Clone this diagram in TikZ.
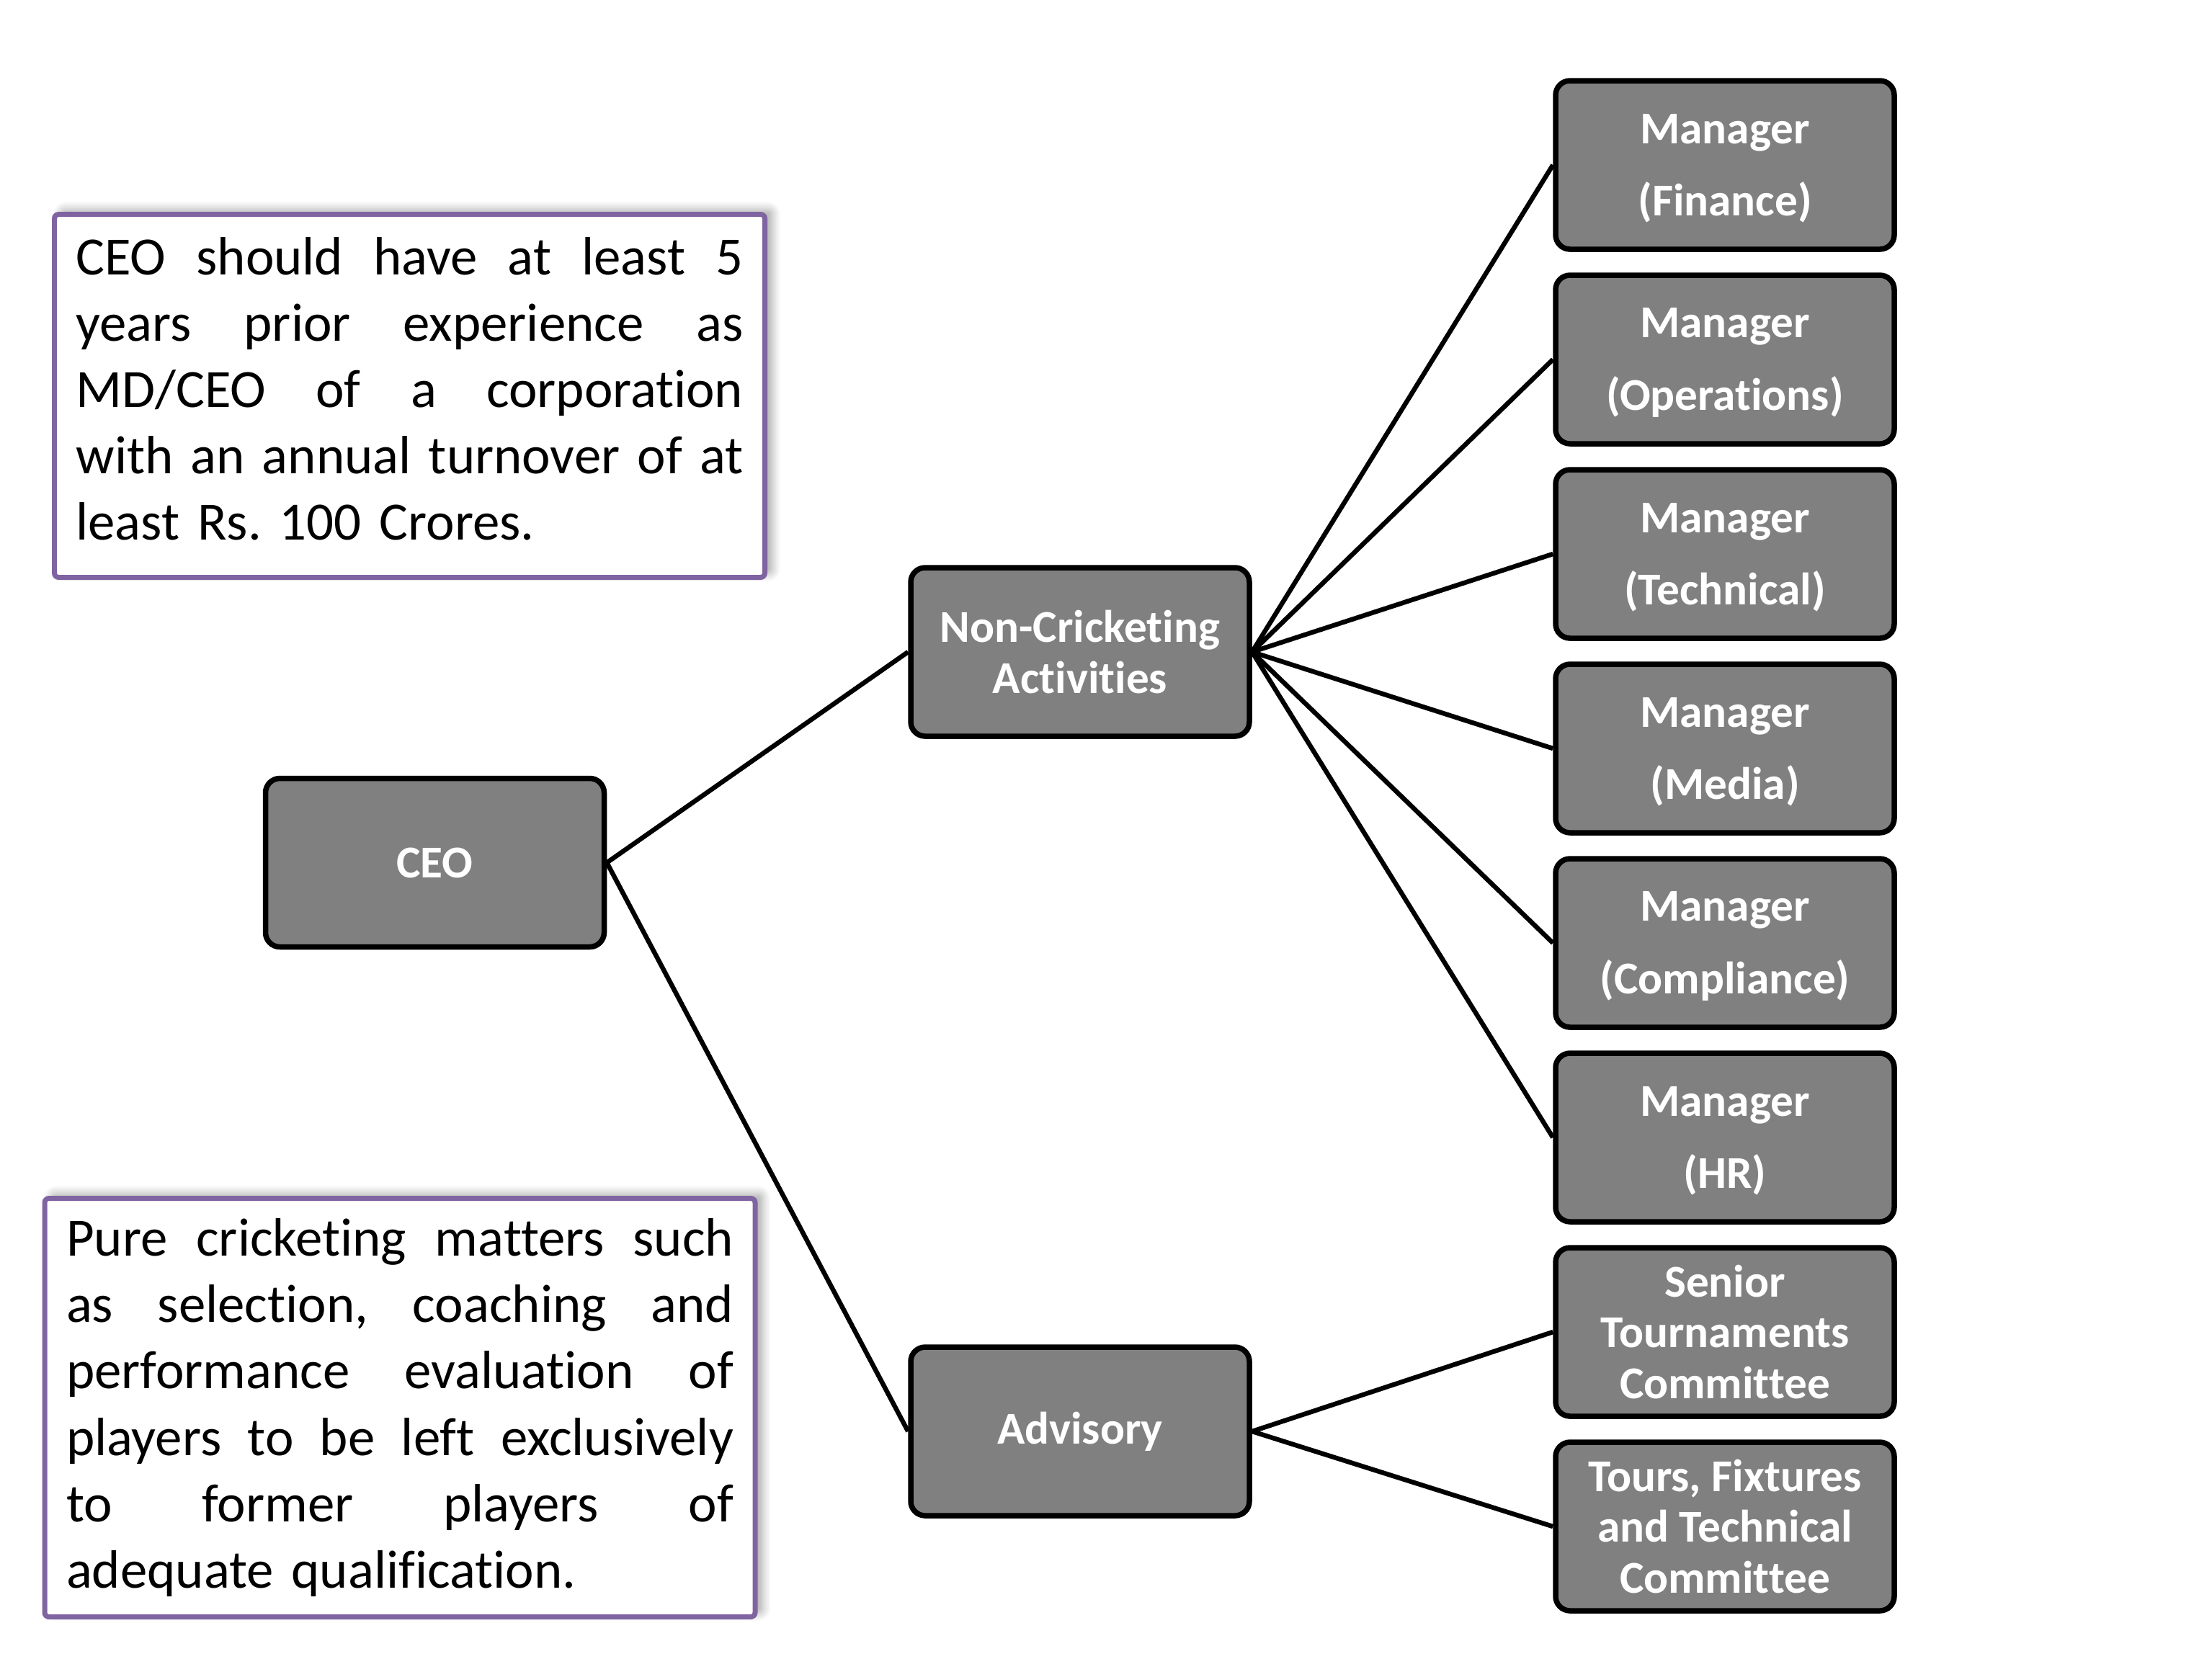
\documentclass[tikz,border=0pt]{standalone}
\usepackage{fontspec}
\setmainfont{Carlito}[Ligatures={NoCommon}]
\usetikzlibrary{positioning,shadows.blur}
\frenchspacing

\definecolor{boxgray}{RGB}{128,128,128}
\definecolor{notepurple}{RGB}{128,100,162}

% one justified line of a note
\newcommand{\spreadline}[1]{\makebox[92.6mm][s]{\spaceskip=0.22em plus 1fil\relax #1}}

\tikzset{
  orgbox/.style={draw=black, line width=0.75mm, fill=boxgray, rounded corners=2mm,
    minimum width=4.7cm, minimum height=2.34cm, inner sep=0pt, align=center,
    text=white, font=\bfseries\fontsize{18}{20}\selectfont},
  mgrbox/.style={orgbox, font=\bfseries\fontsize{18}{28.5}\selectfont},
  link/.style={line width=0.65mm},
  notebox/.style={draw=notepurple, line width=0.7mm, fill=white, align=left,
    rounded corners=0.6mm, text width=92.6mm, inner xsep=3mm, inner ysep=0pt,
    minimum width=9.86cm, font=\fontsize{21.3}{26.2}\selectfont,
    blur shadow={shadow xshift=1mm, shadow yshift=0.6mm, shadow opacity=35,
      shadow blur steps=8, shadow blur radius=1.2mm}}
}

\begin{document}
\begin{tikzpicture}
\useasboundingbox (0,0) rectangle (30.70,-23.02);

% notes
\node[notebox, minimum height=5.04cm] (note1) at (5.685,-5.495) {%
  \spreadline{CEO should have at least 5}\\
  \spreadline{years prior experience as}\\
  \spreadline{MD/CEO of a corporation}\\
  \spreadline{with an annual turnover of at}\\
  least Rs. 100 Crores.\rule[-2mm]{0pt}{2mm}};
\node[notebox, minimum height=5.81cm] (note2) at (5.55,-19.54) {%
  \spreadline{Pure cricketing matters such}\\
  \spreadline{as selection, coaching and}\\
  \spreadline{performance evaluation of}\\
  \spreadline{players to be left exclusively}\\
  \spreadline{to former players of}\\
  adequate qualification.};

% tree
\node[orgbox] (ceo) at (6.035,-11.975) {CEO};
\node[orgbox] (noncricket) at (14.99,-9.05) {Non-Cricketing\\Activities};
\node[orgbox] (advisory) at (14.99,-19.87) {Advisory};
\draw[link] (ceo.east) -- (noncricket.west);
\draw[link] (ceo.east) -- (advisory.west);

\foreach \dept [count=\i from 0] in {Finance, Operations, Technical, Media, Compliance, HR} {
  \node[mgrbox] (mgr\i) at (23.94,{-2.29-2.7*\i}) {\rule{0pt}{5mm}Manager\\(\dept)};
  \draw[link] (noncricket.east) -- (mgr\i.west);
}

\node[orgbox] (senior) at (23.94,-18.49) {Senior\\Tournaments\\Committee};
\node[orgbox] (tours) at (23.94,-21.19) {Tours, Fixtures\\and Technical\\Committee};
\draw[link] (advisory.east) -- (senior.west);
\draw[link] (advisory.east) -- (tours.west);
\end{tikzpicture}
\end{document}
